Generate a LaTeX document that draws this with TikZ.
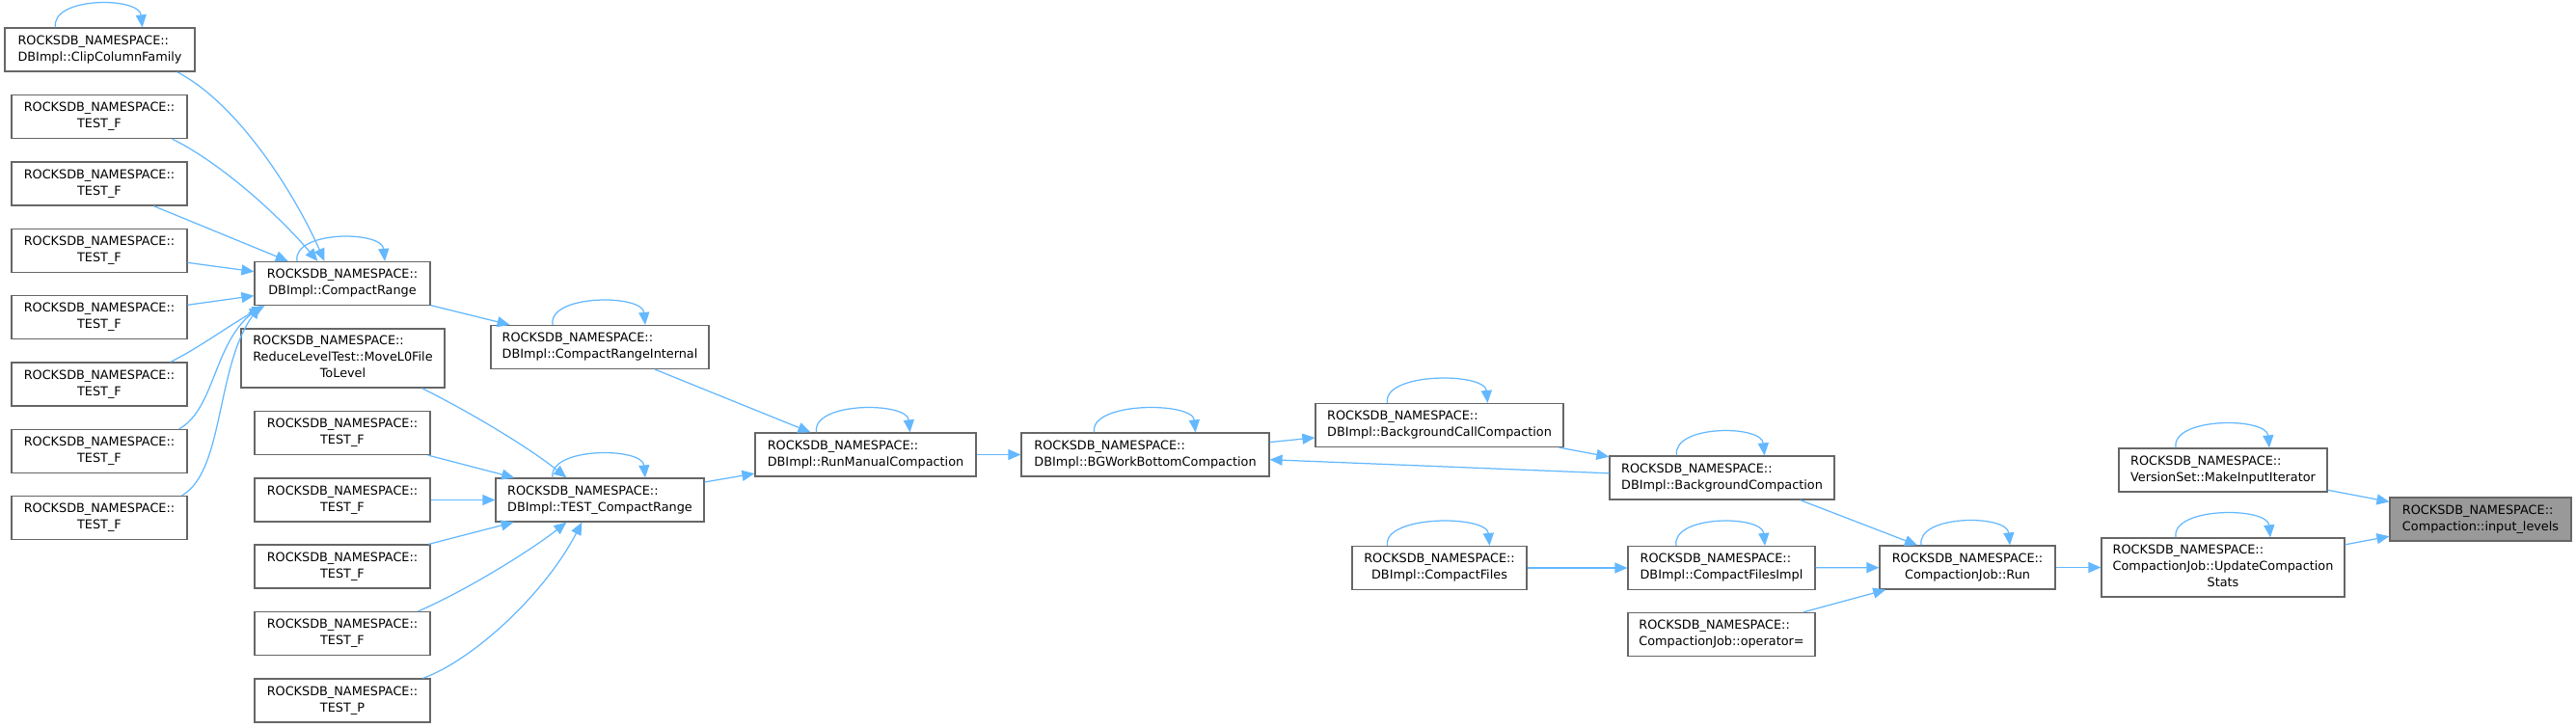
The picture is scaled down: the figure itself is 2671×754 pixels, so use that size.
\documentclass[tikz,border=0pt]{standalone}
\usepackage{fontspec}
\setmainfont{DejaVu Sans}
\usetikzlibrary{arrows.meta,calc}
\definecolor{edgeblue}{HTML}{63B8FF}
\definecolor{boxgray}{HTML}{666666}
\definecolor{curgray}{HTML}{999999}
% first line left, last line centred (doxygen style)
\newcommand{\lbl}[2]{\begin{tabular}{@{}l@{}}#1\\\multicolumn{1}{@{}c@{}}{#2}\end{tabular}}
\tikzset{
 fn/.style={draw=boxgray,line width=0.7pt,fill=white,inner sep=0pt,minimum height=0.9cm,
  font=\fontsize{7.3}{9.7}\selectfont},
 cur/.style={fn,fill=curgray},
 call/.style={draw=edgeblue,line width=0.7pt,-{Triangle[length=0.26cm,width=0.22cm]}}
}
\begin{document}
\begin{tikzpicture}[x=0.02cm,y=-0.02cm]
 \useasboundingbox[fill=white] (0,0) rectangle (2671,754);
 % callers of CompactRange
 \node[fn,minimum width=3.94cm] (clip) at (103.5,51.5) {\lbl{ROCKSDB\_NAMESPACE::}{DBImpl::ClipColumnFamily}};
 \foreach \i/\y in {1/121,2/190.5,3/260,4/329,5/398.5,6/468,7/537}
  \node[fn,minimum width=3.64cm] (tf\i) at (103,\y) {\lbl{ROCKSDB\_NAMESPACE::}{TEST\_F}};
 \node[fn,minimum width=3.64cm] (cr) at (355,294) {\lbl{ROCKSDB\_NAMESPACE::}{DBImpl::CompactRange}};
 \node[fn,minimum width=4.22cm,minimum height=1.22cm] (move) at (355.5,371.5)
  {\lbl{ROCKSDB\_NAMESPACE::\\ReduceLevelTest::MoveL0File}{ToLevel}};
 \foreach \i/\y in {1/449,2/518.5,3/587.5,4/657}
  \node[fn,minimum width=3.64cm] (tg\i) at (355,\y) {\lbl{ROCKSDB\_NAMESPACE::}{TEST\_F}};
 \node[fn,minimum width=3.64cm] (tgp) at (355,726.5) {\lbl{ROCKSDB\_NAMESPACE::}{TEST\_P}};
 \node[fn,minimum width=4.52cm] (cri) at (622,360) {\lbl{ROCKSDB\_NAMESPACE::}{DBImpl::CompactRangeInternal}};
 \node[fn,minimum width=4.32cm] (tcr) at (622,518.5) {\lbl{ROCKSDB\_NAMESPACE::}{DBImpl::TEST\_CompactRange}};
 % compaction chain
 \node[fn,minimum width=4.58cm] (rmc) at (897.5,471.5) {\lbl{ROCKSDB\_NAMESPACE::}{DBImpl::RunManualCompaction}};
 \node[fn,minimum width=5.14cm] (bgw) at (1187.5,471.5) {\lbl{ROCKSDB\_NAMESPACE::}{DBImpl::BGWorkBottomCompaction}};
 \node[fn,minimum width=5.14cm] (bcc) at (1492.5,441) {\lbl{ROCKSDB\_NAMESPACE::}{DBImpl::BackgroundCallCompaction}};
 \node[fn,minimum width=4.66cm] (bc) at (1785.5,495.5) {\lbl{ROCKSDB\_NAMESPACE::}{DBImpl::BackgroundCompaction}};
 \node[fn,minimum width=3.62cm] (cf) at (1492.5,589) {\lbl{ROCKSDB\_NAMESPACE::}{DBImpl::CompactFiles}};
 \node[fn,minimum width=3.88cm] (cfi) at (1785,589) {\lbl{ROCKSDB\_NAMESPACE::}{DBImpl::CompactFilesImpl}};
 \node[fn,minimum width=3.88cm] (opr) at (1785,658) {\lbl{ROCKSDB\_NAMESPACE::}{CompactionJob::operator=}};
 \node[fn,minimum width=3.64cm] (run) at (2040,588.5) {\lbl{ROCKSDB\_NAMESPACE::}{CompactionJob::Run}};
 \node[fn,minimum width=5.04cm,minimum height=1.22cm] (ucs) at (2305,588.5)
  {\lbl{ROCKSDB\_NAMESPACE::\\CompactionJob::UpdateCompaction}{Stats}};
 \node[fn,minimum width=4.32cm] (mii) at (2305,487.5) {\lbl{ROCKSDB\_NAMESPACE::}{VersionSet::MakeInputIterator}};
 \node[cur,minimum width=3.76cm] (il) at (2572,538.5) {\lbl{ROCKSDB\_NAMESPACE::}{Compaction::input\_levels}};

 % self calls
 \foreach \n/\a/\b in {clip/46/44,cr/47/44,cri/49/47,tcr/49/47,rmc/51/46,bgw/53/52,bcc/54/50,
   bc/47/44,cf/54/52,cfi/47/45,run/48/44,ucs/49/49,mii/49/48}
  \draw[call] ($(\n.north)+(-\a,0)$) .. controls +(-5,-32) and +(-3,-32) .. ($(\n.north)+(\b,0)$);

 % edges into CompactRange
 \draw[call] ($(clip.south east)+(-19,0)$) .. controls +(67,35) and +(-27,-62) .. ($(cr.north west)+(73,0)$);
 \draw[call] ($(tf1.south east)+(-16,0)$) .. controls +(52,26) and +(-40,-47) .. ($(cr.north west)+(66,0)$);
 \foreach \i in {2,3,4}
  \draw[call] (tf\i) -- (cr);
 \draw[call] ($(tf5.north east)+(-18,0)$) .. controls +(29,-14) and +(-35,19) .. ($(cr.south west)+(11,0)$);
 \draw[call] ($(tf6.north east)+(-9,0)$) .. controls +(37,-20) and +(-50,39) .. ($(cr.south west)+(8,0)$);
 \draw[call] ($(tf7.north east)+(-6,0)$) .. controls +(44,-25) and +(-46,64) .. ($(cr.south west)+(6,0)$);
 \draw[call] (cr) -- (cri);

 % edges into TEST_CompactRange
 \draw[call] ($(move.south east)+(-24,0)$) .. controls +(50,25) and +(-40,-32) .. ($(tcr.north west)+(74,0)$);
 \foreach \i in {1,2,3}
  \draw[call] (tg\i) -- (tcr);
 \draw[call] ($(tg4.north east)+(-13,0)$) .. controls +(47,-20) and +(-38,30) .. ($(tcr.south west)+(74,0)$);
 \draw[call] ($(tgp.north east)+(-8,0)$) .. controls +(52,-19) and +(-39,75) .. ($(tcr.south west)+(90,0)$);

 \draw[call] (cri) -- (rmc);
 \draw[call] (tcr) -- (rmc);
 \draw[call] (rmc) -- (bgw);
 \draw[call] (bgw) -- (bcc);
 \draw[call] (bcc) -- (bc);
 \draw[call] (bc) -- (bgw);
 \draw[call] ($(bc.south)+(81,0)$) -- ($(run.north)+(-52,0)$);
 \draw[call] (cf) -- (cfi);
 \draw[call] (cfi) -- (run);
 \draw[call] (opr) -- (run);
 \draw[call] (run) -- (ucs);
 \draw[call] (mii) -- (il);
 \draw[call] (ucs) -- (il);
\end{tikzpicture}
\end{document}
